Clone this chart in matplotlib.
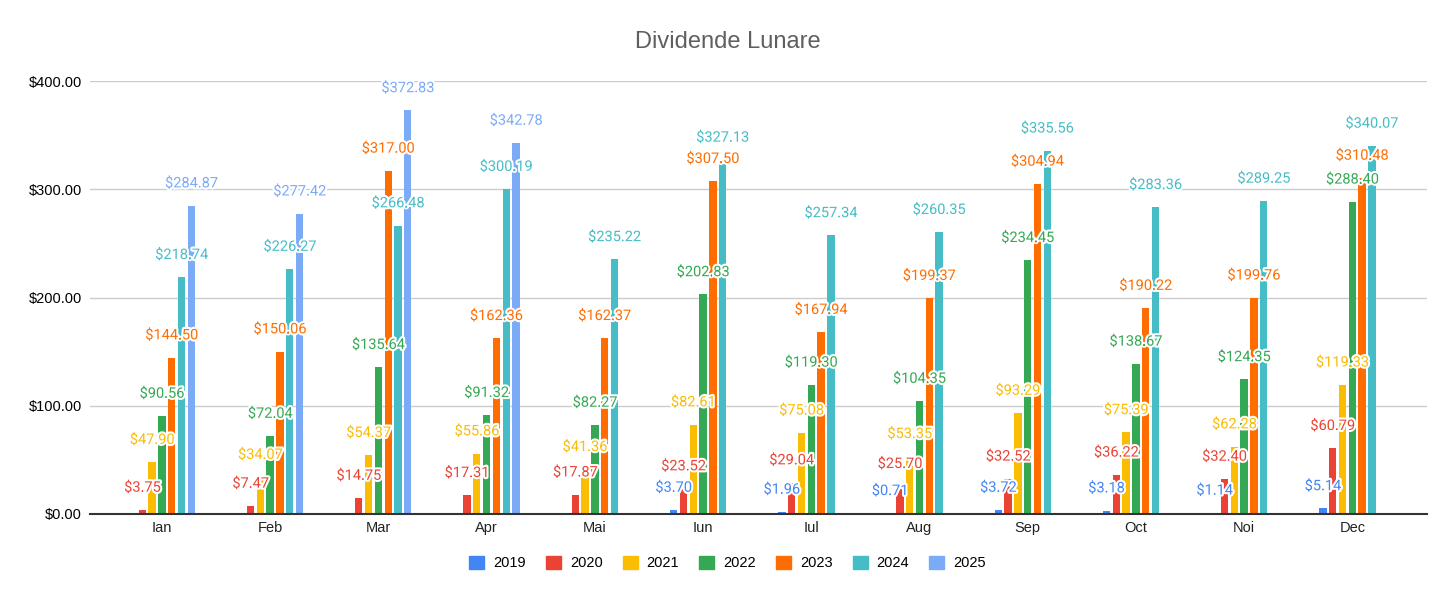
import numpy as np
import matplotlib
matplotlib.use("Agg")
import matplotlib.pyplot as plt
import matplotlib.patheffects as pe
from matplotlib.patches import Patch

months = ["Ian", "Feb", "Mar", "Apr", "Mai", "Iun", "Iul", "Aug", "Sep", "Oct", "Noi", "Dec"]
years = ["2019", "2020", "2021", "2022", "2023", "2024", "2025"]

v2019 = [None, None, None, None, None, 3.70, 1.96, 0.71, 3.72, 3.18, 1.14, 5.14]
v2020 = [3.75, 7.47, 14.75, 17.31, 17.87, 23.52, 29.04, 25.70, 32.52, 36.22, 32.40, 60.79]
v2021 = [47.90, 34.07, 54.37, 55.86, 41.36, 82.61, 75.08, 53.35, 93.29, 75.39, 62.28, 119.33]
v2022 = [90.56, 72.04, 135.64, 91.32, 82.27, 202.83, 119.30, 104.35, 234.45, 138.67, 124.35, 288.40]
v2023 = [144.50, 150.06, 317.00, 162.36, 162.37, 307.50, 167.94, 199.37, 304.94, 190.22, 199.76, 310.48]
v2024 = [218.74, 226.27, 266.48, 300.19, 235.22, 327.13, 257.34, 260.35, 335.56, 283.36, 289.25, 340.07]
v2025 = [284.87, 277.42, 372.83, 342.78, None, None, None, None, None, None, None, None]

series = [v2019, v2020, v2021, v2022, v2023, v2024, v2025]
colors = ["#4285F4", "#EA4335", "#FBBC04", "#34A853", "#FF6D01", "#46BDC6", "#7BAAF7"]

plt.rcParams['font.family'] = ['Roboto', 'DejaVu Sans']

fig = plt.figure(figsize=(14.56, 6.01), dpi=100)
ax = fig.add_axes([90 / 1456, 87 / 601, 1337 / 1456, 433 / 601])

x = np.arange(len(months))
step = 0.0906
width = 0.068

for i, (vals, col) in enumerate(zip(series, colors)):
    pos = x + (i - 3) * step
    for xi, v in zip(pos, vals):
        if v is None:
            continue
        ax.bar(xi, v, width=width, color=col, zorder=3)
        ax.annotate("$%.2f" % v, (xi, v), xytext=(0, 16), textcoords="offset points",
                    ha="center", va="center", fontsize=10.5, color=col, zorder=5,
                    path_effects=[pe.withStroke(linewidth=3, foreground="white")])

ax.set_ylim(0, 400)
ax.set_xlim(-0.665, 11.69)
ax.set_yticks([0, 100, 200, 300, 400])
ax.set_yticklabels(["$%.2f" % t for t in [0, 100, 200, 300, 400]],
                   fontfamily="Liberation Sans", fontsize=10.5, color="#000000")
ax.set_xticks(x)
ax.set_xticklabels(months, fontfamily="Liberation Sans", fontsize=10.5, color="#222222")
ax.tick_params(axis="both", length=0)
ax.tick_params(axis="y", pad=6)
ax.tick_params(axis="x", pad=5)
ax.grid(axis="y", color="#cccccc", linewidth=1, zorder=0)
for s in ["top", "right", "left"]:
    ax.spines[s].set_visible(False)
ax.spines["bottom"].set_color("#333333")
ax.spines["bottom"].set_linewidth(1.5)
ax.spines["bottom"].set_zorder(4)

fig.text(728 / 1456, 1 - 42 / 601, "Dividende Lunare", ha="center", va="center",
         fontsize=17, color="#5f5f5f", fontfamily="Liberation Sans")

handles = [Patch(facecolor=c, edgecolor=c, label=y) for y, c in zip(years, colors)]
fig.legend(handles=handles, loc="center", ncol=7, frameon=False,
           bbox_to_anchor=(727.5 / 1456, 1 - 563 / 601),
           prop={"family": "Liberation Sans", "size": 10.5},
           handlelength=1.03, handleheight=1.03, handletextpad=0.62, columnspacing=1.37)

fig.savefig("out.png", dpi=100)
